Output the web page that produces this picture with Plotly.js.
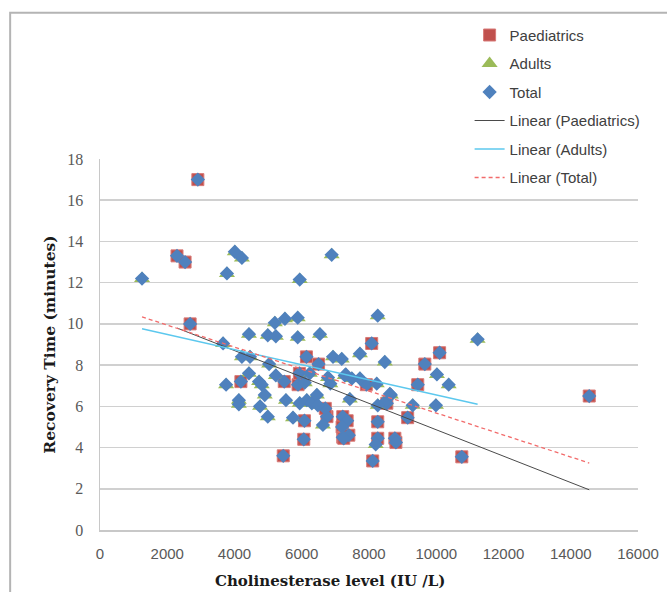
<!DOCTYPE html>
<html>
<head>
<meta charset="utf-8">
<script src="https://cdn.plot.ly/plotly-3.0.1.min.js"></script>
<style>html,body{margin:0;padding:0;background:#fff;}#chart{width:667px;height:592px;}</style>
</head>
<body>
<div id="chart"></div>
<script>
// Paediatrics (cholinesterase IU/L, recovery minutes)
const paedX = [2910, 2290, 2530, 2680, 14550, 10760, 5450, 4190, 5480, 5890, 5930, 6140, 6500, 8080, 7920,
  10100, 9660, 9450, 9150, 8770, 8800, 8110, 8260, 8260, 8530, 7220, 7350, 7200, 7220, 7400, 6080, 6060, 6750, 6700, 7250];
const paedY = [17.0, 13.3, 13.0, 10.0, 6.5, 3.55, 3.6, 7.2, 7.2, 7.05, 7.6, 8.4, 8.05, 9.05, 7.05,
  8.6, 8.05, 7.05, 5.45, 4.45, 4.25, 3.35, 5.25, 4.45, 6.15, 5.5, 5.3, 5.0, 4.5, 4.6, 5.3, 4.4, 5.5, 5.9, 4.45];
// Adults
const adultX = [1250, 3775, 4010, 4220, 6890, 5940, 5200, 5500, 5880, 4430, 4990, 5230, 5880, 6540, 3660,
  8260, 11230, 7730, 10020, 10370, 8650, 9300, 9990, 8470, 8470, 6930, 7190, 7310, 7490, 7730, 8230, 7430,
  8620, 8260, 4220, 4460, 5030, 4430, 5230, 6240, 6780, 7280, 3750, 4730, 4810, 6090, 4900, 4130, 4130,
  4760, 5530, 5940, 6150, 6300, 6450, 6480, 4990, 5740, 6630, 8200, 6850];
const adultY = [12.2, 12.45, 13.5, 13.2, 13.35, 12.15, 10.05, 10.25, 10.3, 9.5, 9.45, 9.4, 9.35, 9.5, 9.05,
  10.4, 9.25, 8.55, 7.55, 7.05, 6.55, 6.05, 6.05, 8.15, 6.2, 8.4, 8.3, 7.55, 7.35, 7.35, 7.1, 6.35,
  6.6, 6.05, 8.4, 8.4, 8.05, 7.6, 7.5, 7.6, 7.4, 7.5, 7.05, 7.2, 7.05, 7.15, 6.55, 6.3, 6.1,
  6.0, 6.3, 6.15, 6.3, 6.15, 6.55, 6.05, 5.5, 5.45, 5.1, 4.15, 7.1];
// Total = all points
const totalX = paedX.concat(adultX);
const totalY = paedY.concat(adultY);
// Linear trend lines (end points)
const trendPaedX = [2290, 14550], trendPaedY = [9.8, 1.95];
const trendAdultX = [1250, 11230], trendAdultY = [9.76, 6.1];
const trendTotalX = [1250, 14550], trendTotalY = [10.34, 3.25];
const xTicks = [0, 2000, 4000, 6000, 8000, 10000, 12000, 14000, 16000];
const yTicks = [0, 2, 4, 6, 8, 10, 12, 14, 16, 18];

const traces = [
  {x: paedX, y: paedY, name: 'Paediatrics', type: 'scatter', mode: 'markers', legendgroup: 'a',
   marker: {symbol: 'square', size: 12, color: '#C0504D', line: {color: '#D87A78', width: 1}}},
  {x: adultX, y: adultY, name: 'Adults', type: 'scatter', mode: 'markers', legendgroup: 'b',
   marker: {symbol: 'triangle-up', size: 14, color: '#9BBB59', line: {width: 0}}},
  {x: totalX, y: totalY, name: 'Total', type: 'scatter', mode: 'markers', legendgroup: 'c',
   marker: {symbol: 'diamond', size: 11, color: '#4F81BD', line: {width: 0}}},
  {x: trendPaedX, y: trendPaedY, name: 'Linear (Paediatrics)', type: 'scatter', mode: 'lines', legendgroup: 'd',
   line: {color: '#4a4a4a', width: 1}},
  {x: trendAdultX, y: trendAdultY, name: 'Linear (Adults)', type: 'scatter', mode: 'lines', legendgroup: 'e',
   line: {color: '#5CC8EE', width: 1.5}},
  {x: trendTotalX, y: trendTotalY, name: 'Linear (Total)', type: 'scatter', mode: 'lines', legendgroup: 'f',
   line: {color: '#F26B6B', width: 1.3, dash: '4px,3px'}}
];

const layout = {
  width: 667, height: 592,
  margin: {l: 100, r: 29, t: 159, b: 62},
  paper_bgcolor: '#ffffff', plot_bgcolor: '#ffffff',
  showlegend: true,
  legend: {x: 0.687, y: 1.378, xanchor: 'left', yanchor: 'top', bgcolor: 'rgba(0,0,0,0)',
    traceorder: 'grouped', tracegroupgap: 6,
    font: {family: 'Liberation Sans, Arial, sans-serif', size: 15, color: '#404040'}},
  xaxis: {range: [0, 16000], tickvals: xTicks, ticktext: xTicks.map(String), showgrid: false, zeroline: false,
    showline: true, linecolor: '#c8c8c8', linewidth: 1.5, ticks: '', ticklabelstandoff: 9,
    tickfont: {family: 'Liberation Sans, Arial, sans-serif', size: 15, color: '#595959'}},
  yaxis: {range: [0, 18], tickvals: yTicks, ticktext: yTicks.map(String), showgrid: true, gridcolor: '#d0d0d0', gridwidth: 1.5,
    zeroline: false, showline: true, linecolor: '#c8c8c8', linewidth: 1.5, ticks: '', ticklabelstandoff: 12,
    tickfont: {family: 'Liberation Serif, Times New Roman, serif', size: 16, color: '#595959'},
    title: {text: 'Recovery Time (minutes)', standoff: 8,
      font: {family: 'DejaVu Serif, serif', size: 15.5, color: '#1a1a1a', weight: 'bold'}}},
  annotations: [{text: 'Cholinesterase level (IU /L)', xref: 'paper', yref: 'paper', x: 0.428, y: -0.137,
    xanchor: 'center', yanchor: 'middle', showarrow: false,
    font: {family: 'DejaVu Serif, serif', size: 15, color: '#1a1a1a', weight: 'bold'}}],
  shapes: [{type: 'rect', xref: 'paper', yref: 'paper', x0: -0.167, x1: 1.3, y0: -0.3, y1: 1.394,
    line: {color: '#b4b4b4', width: 2}, fillcolor: 'rgba(0,0,0,0)', layer: 'below'}]
};

Plotly.newPlot('chart', traces, layout, {staticPlot: true, displayModeBar: false});
</script>
</body>
</html>
